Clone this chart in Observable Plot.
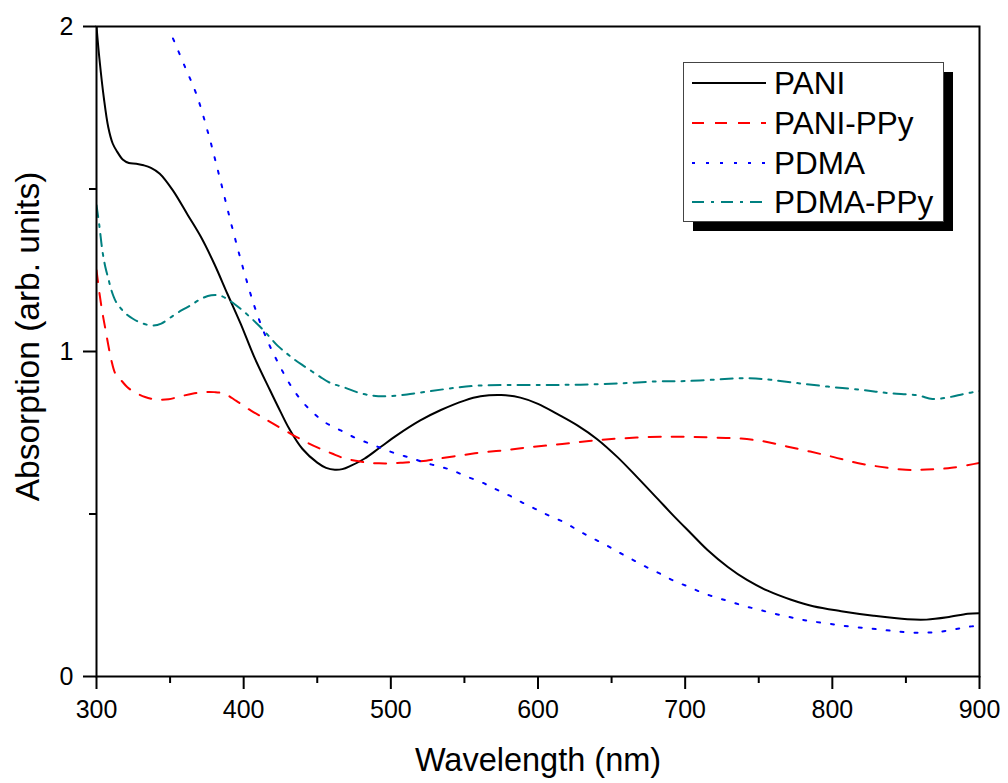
<!DOCTYPE html>
<html>
<head>
<meta charset="utf-8">
<script src="https://cdn.jsdelivr.net/npm/d3@7"></script>
<script src="https://cdn.jsdelivr.net/npm/@observablehq/plot@0.6"></script>
<style>
  html, body { margin: 0; padding: 0; background: white; }
  #wrap { position: relative; width: 1008px; height: 783px; font-family: "Liberation Sans", Arial, sans-serif; }
  #legend { position: absolute; left: 0; top: 0; }
</style>
</head>
<body>
<div id="wrap"></div>
<script>
// ---- Data ----
const seriesNames = ["PANI", "PANI-PPy", "PDMA", "PDMA-PPy"];
const seriesColors = ["#000000", "#ff0000", "#0000ff", "#008080"];
const seriesDash = [null, "12,11", "3,11", "12,7,3,7"];

const paniX = [300,302,305,308,311,314,318,322,327,332,337,343,352,362,371,380,389,398,407,418,425,431,440,450,456,462,467,473,482,493,504,520,534,550,561,575,588,600,613,627,640,654,667,681,692,704,715,729,742,756,772,787,806,828,851,864,878,892,900];
const paniY = [2.0,1.9,1.78,1.69,1.64,1.615,1.59,1.58,1.578,1.573,1.565,1.547,1.495,1.42,1.352,1.27,1.177,1.085,0.985,0.88,0.815,0.762,0.70,0.658,0.642,0.636,0.638,0.649,0.67,0.706,0.742,0.788,0.82,0.849,0.862,0.866,0.858,0.839,0.808,0.772,0.731,0.675,0.615,0.548,0.495,0.44,0.39,0.337,0.297,0.264,0.236,0.216,0.201,0.187,0.176,0.175,0.182,0.193,0.195];

const paniPPyX = [300,302,304,306,308,310,313,317,321,325,333,341,349,357,365,373,380,387,395,405,413,420,430,440,450,460,468,476,484,492,500,508,516,524,532,547,563,579,595,611,627,642,658,676,692,706,722,738,754,769,785,801,817,833,850,864,881,900];
const paniPPyY = [1.25,1.18,1.12,1.07,1.02,0.975,0.93,0.91,0.89,0.877,0.86,0.852,0.853,0.862,0.87,0.875,0.875,0.87,0.848,0.818,0.797,0.778,0.752,0.727,0.705,0.686,0.672,0.664,0.658,0.656,0.656,0.658,0.661,0.664,0.67,0.68,0.69,0.697,0.706,0.713,0.721,0.728,0.733,0.737,0.738,0.737,0.735,0.732,0.723,0.708,0.692,0.675,0.657,0.645,0.636,0.637,0.642,0.657];

const pdmaX = [352,360,368,376,384,392,400,408,416,424,432,440,448,456,466,476,486,495,504,514,523,533,542,551,561,570,580,589,598,608,618,627,636,646,655,664,674,684,693,703,712,722,731,740,749,759,769,778,787,797,806,816,825,835,844,854,863,872,882,891,900];
const pdmaY = [1.963,1.877,1.79,1.67,1.53,1.385,1.25,1.13,1.035,0.96,0.895,0.845,0.808,0.78,0.757,0.734,0.716,0.70,0.685,0.672,0.658,0.646,0.634,0.616,0.599,0.579,0.558,0.536,0.516,0.494,0.474,0.45,0.428,0.405,0.382,0.36,0.336,0.314,0.293,0.275,0.257,0.242,0.23,0.217,0.207,0.195,0.185,0.176,0.169,0.163,0.157,0.152,0.148,0.143,0.139,0.135,0.135,0.137,0.144,0.152,0.157];

const pdmaPPyX = [300,302,304,306,308,310,313,317,321,325,331,338,344,352,358,364,371,378,384,391,398,405,411,417,423,429,434,440,446,452,459,468,479,488,495,503,511,519,527,543,559,579,604,629,656,681,700,722,738,748,758,776,797,820,838,858,868,879,890,900];
const pdmaPPyY = [1.45,1.385,1.31,1.26,1.225,1.19,1.155,1.13,1.112,1.10,1.087,1.08,1.086,1.11,1.127,1.142,1.162,1.173,1.172,1.155,1.131,1.103,1.077,1.048,1.018,0.995,0.977,0.958,0.94,0.922,0.903,0.89,0.872,0.864,0.862,0.864,0.868,0.873,0.878,0.888,0.895,0.897,0.897,0.898,0.902,0.908,0.909,0.914,0.918,0.917,0.913,0.903,0.892,0.882,0.872,0.865,0.854,0.859,0.87,0.878];

const xMajor = [300,400,500,600,700,800,900];
const xMinor = [350,450,550,650,750,850];
const yMajor = [0,1,2];
const yMinor = [0.5,1.5];

// ---- Build tables ----
const xs = [paniX, paniPPyX, pdmaX, pdmaPPyX];
const ys = [paniY, paniPPyY, pdmaY, pdmaPPyY];
const tables = seriesNames.map((name, i) => xs[i].map((x, j) => ({series: name, x, y: ys[i][j]})));

const font = '"Liberation Sans", Arial, sans-serif';

const lineMarks = tables.map((t, i) => Plot.line(t, {
  x: "x", y: "y",
  stroke: seriesColors[i],
  strokeWidth: 2,
  strokeDasharray: seriesDash[i] || undefined,
  curve: "catmull-rom",
  clip: true
}));

const chart = Plot.plot({
  width: 1008,
  height: 783,
  marginLeft: 96,
  marginRight: 29,
  marginTop: 26,
  marginBottom: 107,
  style: {fontFamily: font, background: "white", color: "black", overflow: "visible"},
  x: {domain: [300, 900]},
  y: {domain: [0, 2]},
  marks: [
    ...lineMarks,
    Plot.frame({stroke: "black", strokeWidth: 2}),
    Plot.axisX({ticks: xMajor, tickSize: 13, tickPadding: 11, fontSize: 25, strokeWidth: 2, label: null, tickFormat: d => String(d)}),
    Plot.axisX({ticks: xMinor, tickSize: 7, strokeWidth: 2, label: null, tickFormat: () => ""}),
    Plot.axisY({ticks: yMajor, tickSize: 13, tickPadding: 10, fontSize: 25, strokeWidth: 2, label: null, tickFormat: d => String(d)}),
    Plot.axisY({ticks: yMinor, tickSize: 7, strokeWidth: 2, label: null, tickFormat: () => ""}),
    Plot.text(["Wavelength (nm)"], {text: d => d, frameAnchor: "bottom", lineAnchor: "middle", textAnchor: "middle", dy: 84, fontSize: 32.5}),
    Plot.text(["Absorption (arb. units)"], {text: d => d, frameAnchor: "left", lineAnchor: "middle", textAnchor: "middle", dx: -68, dy: -15, rotate: -90, fontSize: 33.5})
  ]
});

const wrap = document.getElementById("wrap");
wrap.appendChild(chart);

// ---- Legend (overlay) ----
const ns = "http://www.w3.org/2000/svg";
const leg = document.createElementNS(ns, "svg");
leg.setAttribute("id", "legend");
leg.setAttribute("width", 1008);
leg.setAttribute("height", 783);
leg.style.pointerEvents = "none";
const boxL = 683, boxT = 62, boxW = 260, boxH = 159, shadow = 10;
function el(tag, attrs) { const e = document.createElementNS(ns, tag); for (const k in attrs) e.setAttribute(k, attrs[k]); leg.appendChild(e); return e; }
el("rect", {x: boxL + shadow, y: boxT + shadow, width: boxW, height: boxH, fill: "black"});
el("rect", {x: boxL + 0.5, y: boxT + 0.5, width: boxW, height: boxH, fill: "white", stroke: "#444", "stroke-width": 1});
const rowY = [83, 123, 163, 202];
seriesNames.forEach((name, i) => {
  const a = {x1: 692, x2: 766, y1: rowY[i], y2: rowY[i], stroke: seriesColors[i], "stroke-width": 2};
  if (seriesDash[i]) a["stroke-dasharray"] = seriesDash[i];
  el("line", a);
  const t = el("text", {x: 774, y: rowY[i], "dominant-baseline": "central", "font-size": 31.5, "font-family": font, fill: "black"});
  t.textContent = name;
});
wrap.appendChild(leg);
</script>
</body>
</html>
